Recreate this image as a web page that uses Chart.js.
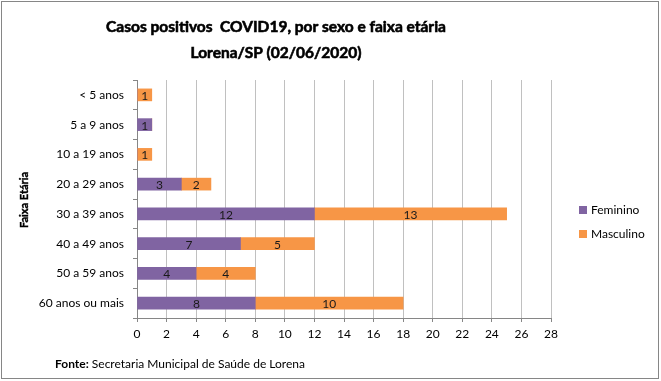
<!DOCTYPE html>
<html>
<head>
<meta charset="utf-8">
<script src="https://cdn.jsdelivr.net/npm/chart.js@4/dist/chart.umd.min.js"></script>
<style>
  html, body { margin: 0; padding: 0; background: #fff; }
  #wrap { width: 661px; height: 381px; position: relative; }
</style>
</head>
<body>
<div id="wrap"><canvas id="c" width="661" height="381"></canvas></div>
<script>
const categories = ["< 5 anos", "5 a 9 anos", "10 a 19 anos", "20 a 29 anos", "30 a 39 anos", "40 a 49 anos", "50 a 59 anos", "60 anos ou mais"];
const feminino = [0, 1, 0, 3, 12, 7, 4, 8];
const masculino = [1, 0, 1, 2, 13, 5, 4, 10];
const seriesNames = ["Feminino", "Masculino"];
const titleLines = ["Casos positivos  COVID19, por sexo e faixa etária", "Lorena/SP (02/06/2020)"];
const yAxisTitle = "Faixa Etária";
const sourceBold = "Fonte:";
const sourceText = " Secretaria Municipal de Saúde de Lorena";

const PURPLE = "#8064A2";
const ORANGE = "#F79646";
const FONT = "Lato, 'Open Sans', sans-serif";

const decor = {
  id: "decor",
  beforeDraw(chart) {
    const ctx = chart.ctx;
    ctx.save();
    ctx.fillStyle = "#fff";
    ctx.fillRect(0, 0, chart.width, chart.height);
    ctx.restore();
  },
  afterDatasetsDraw(chart) {
    const ctx = chart.ctx;
    ctx.save();
    ctx.font = "12px " + FONT;
    ctx.fillStyle = "#1a1a1a";
    ctx.textAlign = "center";
    ctx.textBaseline = "middle";
    chart.data.datasets.forEach((ds, i) => {
      const meta = chart.getDatasetMeta(i);
      meta.data.forEach((el, j) => {
        const v = ds.data[j];
        if (!v) return;
        ctx.fillText(String(v), (el.x + el.base) / 2, el.y + 1);
      });
    });
    ctx.restore();
  },
  afterDraw(chart) {
    const ctx = chart.ctx;
    ctx.save();
    // title
    ctx.fillStyle = "#000";
    ctx.strokeStyle = "#000";
    ctx.lineWidth = 0.6;
    ctx.textAlign = "center";
    ctx.textBaseline = "alphabetic";
    ctx.font = "bold 15.5px " + FONT;
    ctx.fillText(titleLines[0], 276, 32);
    ctx.strokeText(titleLines[0], 276, 32);
    ctx.fillText(titleLines[1], 276, 58);
    ctx.strokeText(titleLines[1], 276, 58);
    // y axis title
    ctx.save();
    ctx.translate(28, 200);
    ctx.rotate(-Math.PI / 2);
    ctx.font = "bold 11px " + FONT;
    ctx.lineWidth = 0.4;
    ctx.textAlign = "center";
    ctx.fillText(yAxisTitle, 0, 0);
    ctx.strokeText(yAxisTitle, 0, 0);
    ctx.restore();
    // legend
    const legendItems = [[seriesNames[0], PURPLE, 210], [seriesNames[1], ORANGE, 234]];
    ctx.font = "12px " + FONT;
    ctx.textAlign = "left";
    ctx.textBaseline = "middle";
    legendItems.forEach(([name, color, y]) => {
      ctx.fillStyle = color;
      ctx.fillRect(579, y - 4, 8, 8);
      ctx.fillStyle = "#000";
      ctx.fillText(name, 591, y);
    });
    // source
    ctx.textBaseline = "alphabetic";
    ctx.font = "bold 12px " + FONT;
    ctx.fillText(sourceBold, 55, 368);
    const w = ctx.measureText(sourceBold).width;
    ctx.font = "12px " + FONT;
    ctx.fillText(sourceText, 55 + w, 368);
    // border
    ctx.strokeStyle = "#868686";
    ctx.lineWidth = 1;
    ctx.strokeRect(1.5, 1.5, 657, 377);
    ctx.restore();
  }
};

new Chart(document.getElementById("c"), {
  type: "bar",
  data: {
    labels: categories,
    datasets: [
      { label: seriesNames[0], data: feminino, backgroundColor: PURPLE, borderWidth: 0, barThickness: 12 },
      { label: seriesNames[1], data: masculino, backgroundColor: ORANGE, borderWidth: 0, barThickness: 12 }
    ]
  },
  options: {
    indexAxis: "y",
    responsive: false,
    animation: false,
    events: [],
    layout: { padding: { top: 80, right: 110, bottom: 0, left: 0 } },
    plugins: {
      legend: { display: false },
      title: { display: false },
      tooltip: { enabled: false }
    },
    scales: {
      x: {
        stacked: true,
        min: 0,
        max: 28,
        ticks: { stepSize: 2, color: "#000", font: { family: FONT, size: 12 }, padding: 5 },
        grid: { color: "#c0c0c0", tickColor: "#868686", tickLength: 4, lineWidth: 1 },
        border: { color: "#868686" },
        afterFit(scale) { scale.height = 63; }
      },
      y: {
        stacked: true,
        ticks: { color: "#000", font: { family: FONT, size: 12 }, padding: 9 },
        grid: { drawOnChartArea: false, tickColor: "#868686", tickLength: 4, offset: true },
        border: { color: "#868686" },
        afterFit(scale) { scale.width = 137; }
      }
    }
  },
  plugins: [decor]
});
</script>
</body>
</html>
